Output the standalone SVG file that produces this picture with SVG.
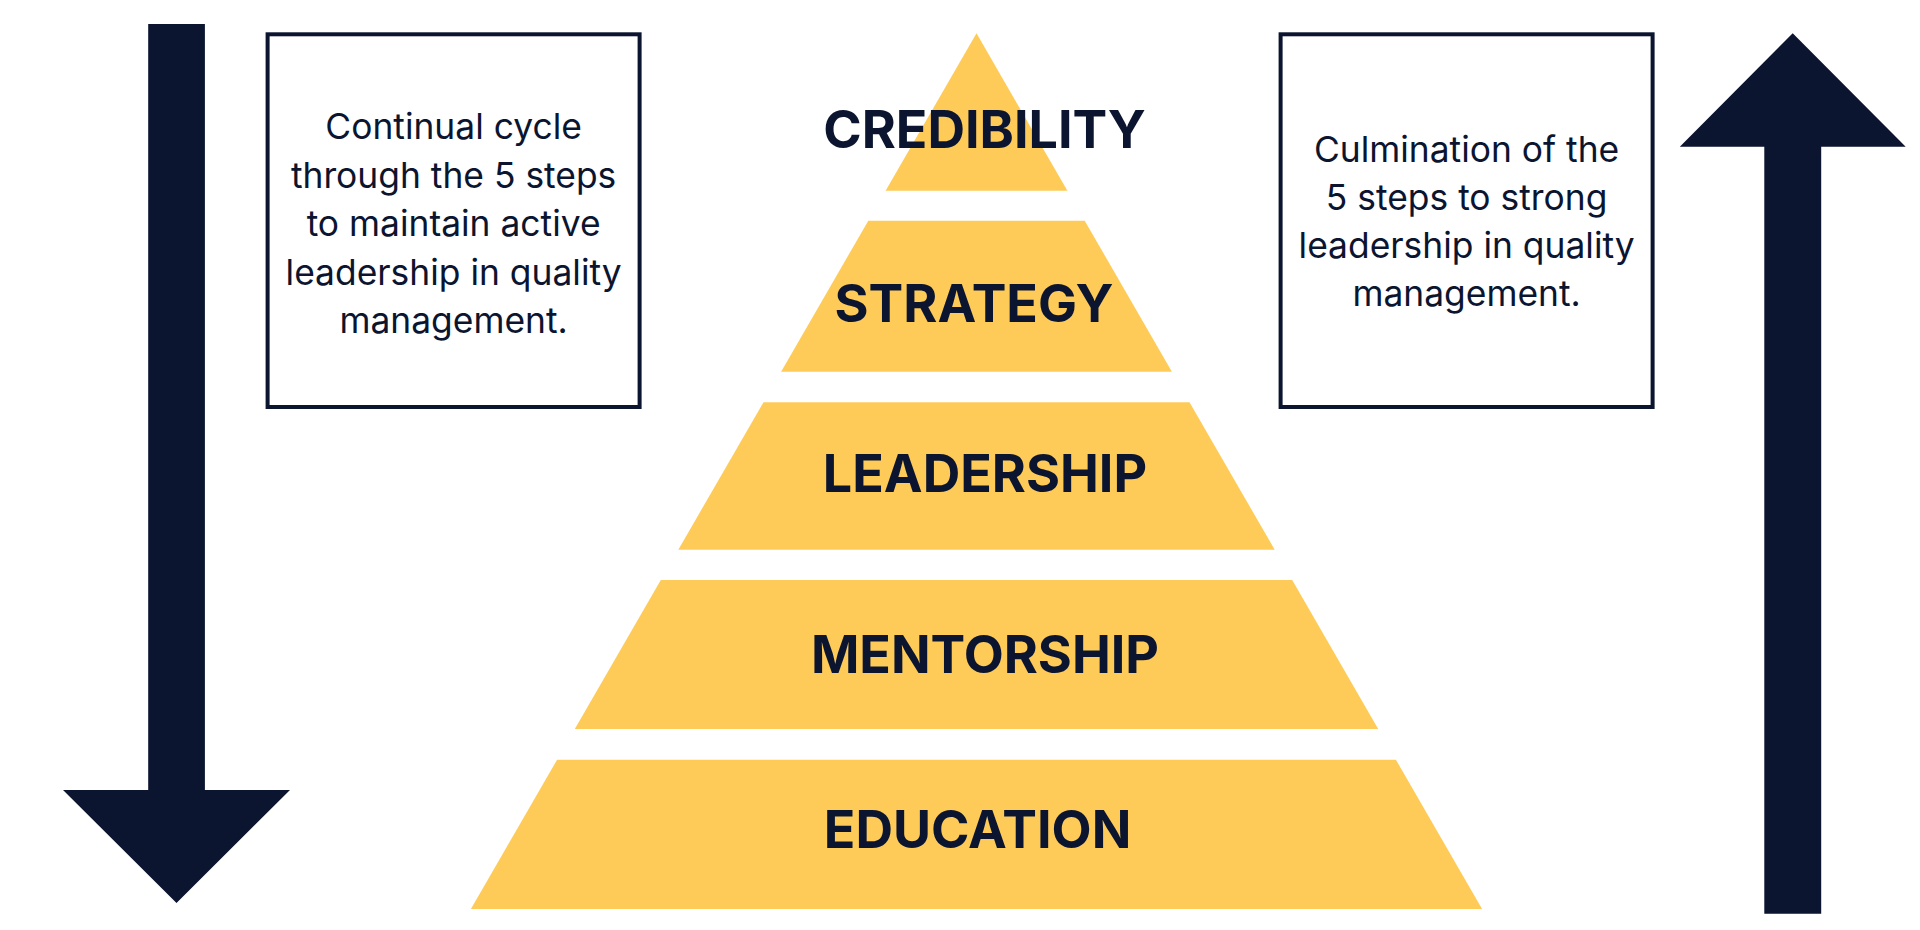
<svg xmlns="http://www.w3.org/2000/svg" width="1920" height="930" viewBox="0 0 1920 930">
<style>
.dark{fill:#0B1530}
.tier{fill:#FECB58}
.box{fill:#FFFFFF;stroke:#0B1530;stroke-width:4}
.body{font-family:Inter,"Noto Sans",sans-serif;font-size:35.4px;fill:#0B1530;text-anchor:middle}
.label{font-family:Inter,"Noto Sans",sans-serif;font-size:52px;font-weight:700;fill:#0B1530;text-anchor:middle}
</style>
<rect width="1920" height="930" fill="#FFFFFF"/>
<g id="connectors">
<g id="arrow-down">
<path class="dark" d="M148.2 24 H204.9 V790 H290 L176.5 903 L63 790 H148.2 Z"/>
</g>
<g id="arrow-up">
<path class="dark" d="M1792.7 33.3 L1905.7 146.7 H1821.2 V913.7 H1764.3 V146.7 H1679.8 Z"/>
</g>
</g>
<g id="box-left">
<rect class="box" x="267.6" y="34.3" width="372" height="372.7"/>
<text class="body" x="453.6" y="139.3">Continual cycle</text>
<text class="body" x="453.6" y="187.7">through the 5 steps</text>
<text class="body" x="453.6" y="236">to maintain active</text>
<text class="body" x="453.6" y="284.5">leadership in quality</text>
<text class="body" x="453.6" y="333">management.</text>
</g>
<g id="box-right">
<rect class="box" x="1280.6" y="34.3" width="372" height="372.7"/>
<text class="body" x="1466.6" y="161.7">Culmination of the</text>
<text class="body" x="1466.6" y="209.8">5 steps to strong</text>
<text class="body" x="1466.6" y="258">leadership in quality</text>
<text class="body" x="1466.6" y="306.2">management.</text>
</g>
<g id="tier-credibility">
<path class="tier" d="M976.5 33.3 L1067.4 190.7 H885.6 Z"/>
<text class="label" x="984.5" y="148.3">CREDIBILITY</text>
</g>
<g id="tier-strategy">
<path class="tier" d="M868.3 220.7 H1084.7 L1171.9 371.7 H781.1 Z"/>
<text class="label" x="974" y="321.7">STRATEGY</text>
</g>
<g id="tier-leadership">
<path class="tier" d="M763.5 402.3 H1189.5 L1274.7 549.7 H678.3 Z"/>
<text class="label" x="985" y="492.3">LEADERSHIP</text>
</g>
<g id="tier-mentorship">
<path class="tier" d="M660.8 580 H1292.2 L1378.2 729 H574.8 Z"/>
<text class="label" x="985" y="673.3">MENTORSHIP</text>
</g>
<g id="tier-education">
<path class="tier" d="M557.1 759.7 H1395.9 L1482.1 909 H470.9 Z"/>
<text class="label" x="977.6" y="848.3">EDUCATION</text>
</g>
</svg>
